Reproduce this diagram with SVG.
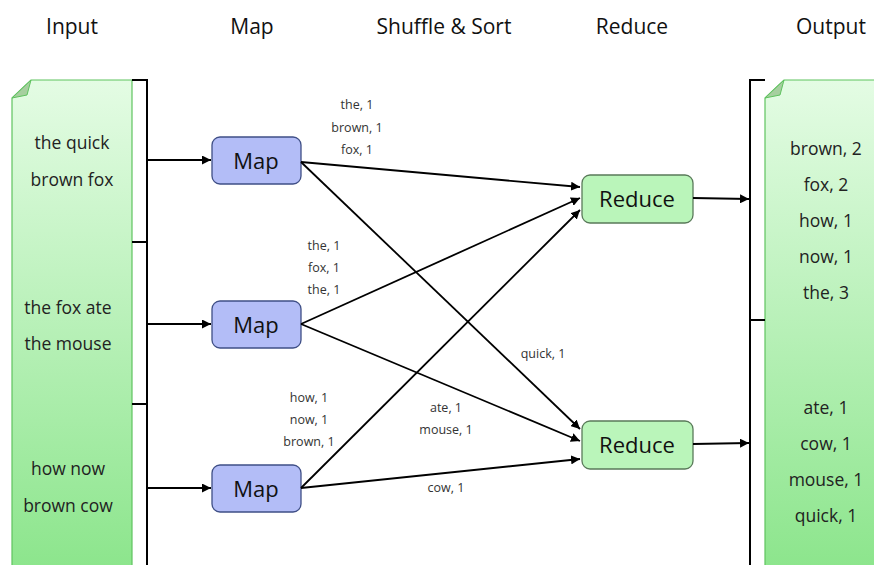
<svg xmlns="http://www.w3.org/2000/svg" width="874" height="565" viewBox="0 0 874 565">
<defs>
<linearGradient id="docg" x1="0" y1="0" x2="0" y2="1">
<stop offset="0" stop-color="#e4fce4"/>
<stop offset="1" stop-color="#8ce58c"/>
</linearGradient>
<marker id="arr" viewBox="0 0 10 10" refX="10" refY="5" markerWidth="9" markerHeight="9" markerUnits="userSpaceOnUse" orient="auto">
<path d="M0,0 L10,5 L0,10 Z" fill="#000"/>
</marker>
<style>
.hdr{font-family:"Open Sans","Liberation Sans",sans-serif;font-size:21px;fill:#111;text-anchor:middle}
.doc{fill:url(#docg);stroke:#5fc35f;stroke-width:1.2}
.fold{fill:#a6cf9f;stroke:#5fc35f;stroke-width:1}
.dt{font-family:"Open Sans","Liberation Sans",sans-serif;font-size:17.5px;fill:#222;text-anchor:middle}
.map{fill:#b3bdf7;stroke:#3f4f86;stroke-width:1.3}
.red{fill:#baf5ba;stroke:#5a7a5a;stroke-width:1.3}
.bt{font-family:"Open Sans","Liberation Sans",sans-serif;font-size:22px;fill:#111;text-anchor:middle}
.lb{font-family:"Open Sans","Liberation Sans",sans-serif;font-size:12.5px;fill:#333;text-anchor:middle}
.ln{stroke:#000;stroke-width:1.8;fill:none}
.br{stroke:#000;stroke-width:2;fill:none}
</style>
</defs>
<rect width="874" height="565" fill="#fff"/>
<g id="headers">
<text class="hdr" x="72" y="34">Input</text>
<text class="hdr" x="252" y="34">Map</text>
<text class="hdr" x="444" y="34">Shuffle &amp; Sort</text>
<text class="hdr" x="632" y="34">Reduce</text>
<text class="hdr" x="831" y="34">Output</text>
</g>
<g id="input">
<path class="doc" d="M12,98 L31,80 L132,80 L132,570 L12,570 Z"/>
<path class="fold" d="M12,98 L31,80 L27,95 Z"/>
<text class="dt" x="72" y="149">the quick</text>
<text class="dt" x="72" y="186">brown fox</text>
<text class="dt" x="68" y="314">the fox ate</text>
<text class="dt" x="68" y="350">the mouse</text>
<text class="dt" x="68" y="475">how now</text>
<text class="dt" x="68" y="512">brown cow</text>
</g>
<g id="output">
<path class="doc" d="M765,98 L784,80 L880,80 L880,570 L765,570 Z"/>
<path class="fold" d="M765,98 L784,80 L780,95 Z"/>
<text class="dt" x="826" y="155">brown, 2</text>
<text class="dt" x="826" y="191">fox, 2</text>
<text class="dt" x="826" y="227">how, 1</text>
<text class="dt" x="826" y="263">now, 1</text>
<text class="dt" x="826" y="299">the, 3</text>
<text class="dt" x="826" y="414">ate, 1</text>
<text class="dt" x="826" y="450">cow, 1</text>
<text class="dt" x="826" y="486">mouse, 1</text>
<text class="dt" x="826" y="522">quick, 1</text>
</g>
<g id="brackets">
<path class="br" d="M132,80 L147,80 L147,570 M132,242 L147,242 M132,404 L147,404"/>
<path class="br" d="M765,80 L750,80 L750,570 M750,320 L765,320"/>
</g>
<g id="map1"><rect class="map" x="212" y="137" width="89" height="47" rx="8"/><text class="bt" x="256" y="169">Map</text></g>
<g id="map2"><rect class="map" x="212" y="301" width="89" height="47" rx="8"/><text class="bt" x="256" y="333">Map</text></g>
<g id="map3"><rect class="map" x="212" y="465" width="89" height="47" rx="8"/><text class="bt" x="256" y="497">Map</text></g>
<g id="reduce1"><rect class="red" x="582" y="175" width="111" height="48" rx="8"/><text class="bt" x="637" y="207">Reduce</text></g>
<g id="reduce2"><rect class="red" x="582" y="421" width="111" height="48" rx="8"/><text class="bt" x="637" y="453">Reduce</text></g>
<g id="connectors">
<line class="ln" x1="147" y1="160" x2="211" y2="160" marker-end="url(#arr)"/>
<line class="ln" x1="147" y1="324" x2="211" y2="324" marker-end="url(#arr)"/>
<line class="ln" x1="147" y1="488" x2="211" y2="488" marker-end="url(#arr)"/>
<line class="ln" x1="301" y1="162" x2="580" y2="187" marker-end="url(#arr)"/>
<line class="ln" x1="301" y1="162" x2="580" y2="429" marker-end="url(#arr)"/>
<line class="ln" x1="301" y1="324" x2="580" y2="198" marker-end="url(#arr)"/>
<line class="ln" x1="301" y1="324" x2="580" y2="441" marker-end="url(#arr)"/>
<line class="ln" x1="301" y1="488" x2="580" y2="210" marker-end="url(#arr)"/>
<line class="ln" x1="301" y1="488" x2="580" y2="459" marker-end="url(#arr)"/>
<line class="ln" x1="693" y1="198" x2="749" y2="199" marker-end="url(#arr)"/>
<line class="ln" x1="693" y1="444" x2="749" y2="443" marker-end="url(#arr)"/>
</g>
<g id="labels">
<text class="lb" x="357" y="109">the, 1</text>
<text class="lb" x="357" y="132">brown, 1</text>
<text class="lb" x="357" y="154">fox, 1</text>
<text class="lb" x="324" y="250">the, 1</text>
<text class="lb" x="324" y="272">fox, 1</text>
<text class="lb" x="324" y="294">the, 1</text>
<text class="lb" x="543" y="358">quick, 1</text>
<text class="lb" x="309" y="402">how, 1</text>
<text class="lb" x="309" y="424">now, 1</text>
<text class="lb" x="309" y="446">brown, 1</text>
<text class="lb" x="446" y="412">ate, 1</text>
<text class="lb" x="446" y="434">mouse, 1</text>
<text class="lb" x="446" y="492">cow, 1</text>
</g>
</svg>
